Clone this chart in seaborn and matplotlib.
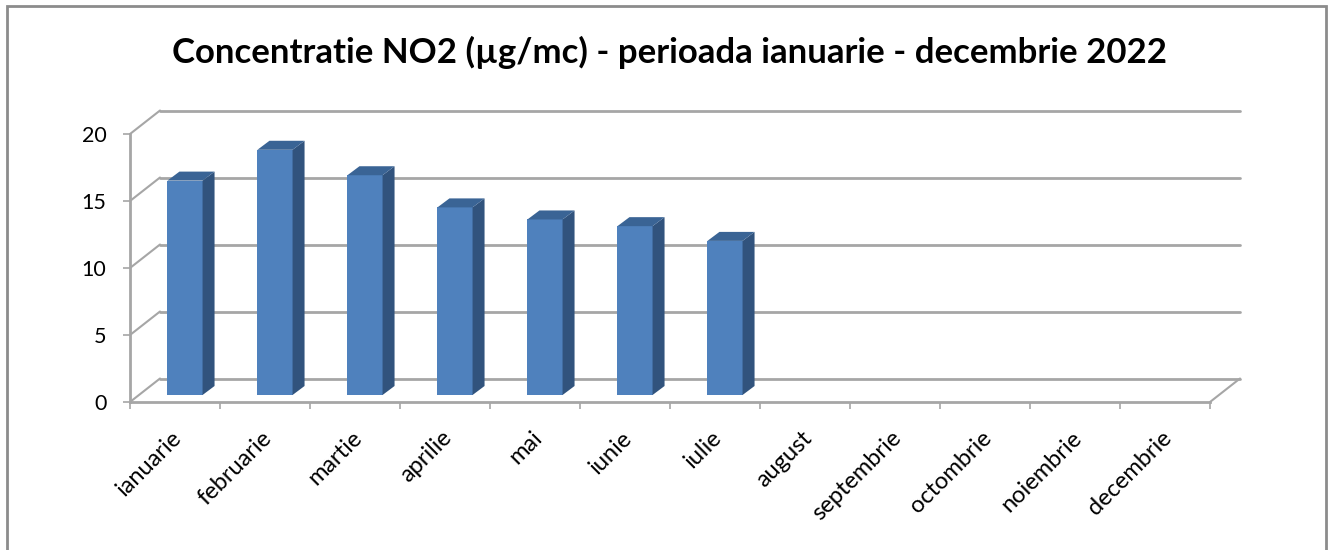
import numpy as np
import pandas as pd
import seaborn as sns
import matplotlib.pyplot as plt
from matplotlib.patches import Polygon, Rectangle
from matplotlib.transforms import ScaledTranslation

months = ['ianuarie', 'februarie', 'martie', 'aprilie', 'mai', 'iunie', 'iulie',
          'august', 'septembrie', 'octombrie', 'noiembrie', 'decembrie']
no2 = [16.0, 18.3, 16.4, 14.0, 13.1, 12.6, 11.5]
yticks = [0, 5, 10, 15, 20]
title = 'Concentratie NO2 (µg/mc) - perioada ianuarie - decembrie 2022'

sns.set_style('white')
plt.rcParams['font.family'] = ['Lato', 'DejaVu Sans']
plt.rcParams['text.color'] = 'black'
plt.rcParams['xtick.color'] = 'black'
plt.rcParams['ytick.color'] = 'black'

W, H = 1328, 550
fig = plt.figure(figsize=(W / 100, H / 100), dpi=100)
ax = fig.add_axes([130 / W, (H - 402) / H, 1080 / W, 268 / H])

df = pd.DataFrame({'luna': months[:len(no2)], 'val': no2})
sns.barplot(data=df, x='luna', y='val', order=months, color='#4F81BD',
            width=0.39, saturation=1, ax=ax, errorbar=None, linewidth=0)
ax.set_xlim(-0.5, len(months) - 0.5)
ax.set_ylim(0, 20)

grid_c = '#A6A6A6'
px_x = 1080 / len(months)   # pixels per category
px_y = 268 / 20             # pixels per unit


def shifted(dx, dy):
    return ax.transData + ScaledTranslation(dx / 100, dy / 100, fig.dpi_scale_trans)


# back wall and floor (depth offset 30 px right, 23.5 px up)
back = shifted(30, 23.5)
bx, by = 30 / px_x, 23.5 / px_y
x0, x1 = -0.5, len(months) - 0.5
for t in yticks:
    ax.plot([x0, x1], [t, t], color=grid_c, lw=2, transform=back, clip_on=False, zorder=0)
    ax.plot([x0, x0 + bx], [t, t + by], color=grid_c, lw=1.5, clip_on=False, zorder=0)
ax.plot([x1, x1 + bx], [0, by], color=grid_c, lw=1.5, clip_on=False, zorder=0)

# 3d look of the bars: front face shifted, plus side and top faces
fdx, fdy = 10, 7
ddx, ddy = 12 / px_x, 9 / px_y
front = shifted(fdx, fdy)
for p in list(ax.patches):
    x, w, h = p.get_x(), p.get_width(), p.get_height()
    if not np.isfinite(h):
        continue
    p.set_transform(front)
    p.set_clip_on(False)
    p.set_zorder(3)
    p.set_edgecolor('none')
    side = Polygon([(x + w, 0), (x + w + ddx, ddy), (x + w + ddx, h + ddy), (x + w, h)],
                   closed=True, facecolor='#31537D', edgecolor='none',
                   transform=front, clip_on=False, zorder=3)
    top = Polygon([(x, h), (x + ddx, h + ddy), (x + w + ddx, h + ddy), (x + w, h)],
                  closed=True, facecolor='#3A6495', edgecolor='none',
                  transform=front, clip_on=False, zorder=3)
    ax.add_patch(side)
    ax.add_patch(top)

# axes
for s in ['top', 'right']:
    ax.spines[s].set_visible(False)
for s in ['left', 'bottom']:
    ax.spines[s].set_color(grid_c)
    ax.spines[s].set_linewidth(2)
ax.set_yticks(yticks)
ax.set_yticklabels([str(t) for t in yticks])
ax.tick_params(axis='y', length=5, width=1.2, color=grid_c, pad=12, direction='out',
               left=True, labelsize=15.5, labelcolor='black')
ax.set_xticks(np.arange(-0.5, len(months), 1))
ax.set_xticklabels([])
ax.tick_params(axis='x', which='major', length=5, width=1.2, color=grid_c, direction='out', bottom=True)
ax.set_xticks(np.arange(len(months)), minor=True)
ax.set_xticklabels(months, minor=True, rotation=45, ha='right', va='top',
                   rotation_mode='anchor', fontsize=17)
ax.tick_params(axis='x', which='minor', length=0, pad=18, labelcolor='black')
for lab in ax.get_xticklabels(minor=True):
    lab.set_fontsize(17)
    lab.set_transform(lab.get_transform() + ScaledTranslation(-0.04, 0, fig.dpi_scale_trans))
ax.set_xlabel('')
ax.set_ylabel('')

fig.text(669 / W, 1 - 52 / H, title, ha='center', va='center',
         fontsize=25, fontweight='bold', color='black')

fig.patches.append(Rectangle((7 / W, -0.05), (1326 - 7) / W, 1.05 - 6 / H,
                             transform=fig.transFigure, fill=False,
                             edgecolor='#8C8C8C', lw=2))

fig.savefig('out.png', dpi=100)
